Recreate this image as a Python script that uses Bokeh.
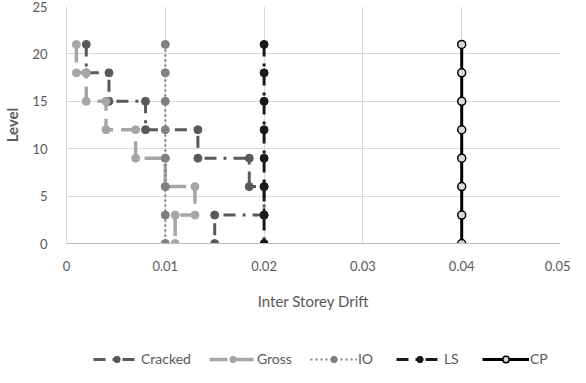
from bokeh.plotting import figure
from bokeh.models import Legend, LegendItem, FixedTicker
from bokeh.layouts import column
from bokeh.embed import file_html
from bokeh.resources import INLINE

# ---- data ----
step_levels = [21, 18, 18, 15, 15, 12, 12, 9, 9, 6, 6, 3, 3, 0]
cracked_drift = [0.002, 0.002, 0.0043, 0.0043, 0.008, 0.008, 0.0133, 0.0133,
                 0.0185, 0.0185, 0.020, 0.020, 0.015, 0.015]
gross_drift = [0.001, 0.001, 0.002, 0.002, 0.004, 0.004, 0.007, 0.007,
               0.010, 0.010, 0.013, 0.013, 0.011, 0.011]
limit_levels = [21, 18, 15, 12, 9, 6, 3, 0]
io_drift = [0.01, 0.01, 0.01, 0.01, 0.01, 0.01, 0.01, 0.01]
ls_drift = [0.02, 0.02, 0.02, 0.02, 0.02, 0.02, 0.02, 0.02]
cp_drift = [0.04, 0.04, 0.04, 0.04, 0.04, 0.04, 0.04, 0.04]
series_names = ["Cracked", "Gross", "IO", "LS", "CP"]
x_ticks = [0, 0.01, 0.02, 0.03, 0.04, 0.05]
x_tick_labels = ["0", "0.01", "0.02", "0.03", "0.04", "0.05"]
y_ticks = [0, 5, 10, 15, 20, 25]

FONT = "Lato"
TXT = "#595959"

p = figure(width=570, height=330, output_backend="svg", toolbar_location=None,
           x_range=(0, 0.05), y_range=(0, 25),
           min_border_left=54, min_border_right=10, min_border_top=6,
           min_border_bottom=87)
p.outline_line_color = None
p.background_fill_color = "white"

p.xaxis.ticker = FixedTicker(ticks=x_ticks)
p.xaxis.major_label_overrides = dict(zip(x_ticks, x_tick_labels))
p.yaxis.ticker = FixedTicker(ticks=y_ticks)
for ax in (p.xaxis, p.yaxis):
    ax.major_tick_line_color = None
    ax.minor_tick_line_color = None
    ax.major_label_text_font = FONT
    ax.major_label_text_font_size = "13px"
    ax.major_label_text_color = TXT
    ax.axis_label_text_font = FONT
    ax.axis_label_text_color = TXT
    ax.axis_label_text_font_style = "normal"
p.xaxis.axis_line_color = "#bfbfbf"
p.yaxis.axis_line_color = "#d9d9d9"
p.xaxis.major_label_standoff = 11
p.yaxis.major_label_standoff = 13
p.xaxis.axis_label = "Inter Storey Drift"
p.xaxis.axis_label_text_font_size = "15px"
p.xaxis.axis_label_standoff = 18
p.yaxis.axis_label = "Level"
p.yaxis.axis_label_text_font_size = "15px"
p.yaxis.axis_label_text_font_style = "bold"
p.yaxis.axis_label_standoff = 8

p.xgrid.ticker = FixedTicker(ticks=x_ticks)
p.ygrid.ticker = FixedTicker(ticks=y_ticks)
p.xgrid.grid_line_color = "#d9d9d9"
p.ygrid.grid_line_color = "#d9d9d9"

styles = [
    dict(line=dict(line_color="#595959", line_width=3, line_dash="12 7 3 7"),
         mark=dict(fill_color="#595959", line_color="#595959")),
    dict(line=dict(line_color="#a6a6a6", line_width=3.5, line_dash="18 8"),
         mark=dict(fill_color="#a6a6a6", line_color="#a6a6a6")),
    dict(line=dict(line_color="#808080", line_width=2.2, line_dash="2 3"),
         mark=dict(fill_color="#808080", line_color="#808080")),
    dict(line=dict(line_color="#1a1a1a", line_width=3, line_dash="12 7 3 7"),
         mark=dict(fill_color="#1a1a1a", line_color="#1a1a1a")),
    dict(line=dict(line_color="black", line_width=3),
         mark=dict(fill_color="#d9d9d9", line_color="black", line_width=1.5)),
]
series = [(cracked_drift, step_levels), (gross_drift, step_levels),
          (io_drift, limit_levels), (ls_drift, limit_levels), (cp_drift, limit_levels)]
for (xs, ys), st in zip(series, styles):
    p.line(xs, ys, **st["line"])
    p.scatter(xs, ys, size=8, **st["mark"])

# legend strip underneath the chart (its ranges keep the series out of view;
# only the legend entries are visible)
lg = figure(width=570, height=37, output_backend="svg", toolbar_location=None,
            x_range=(1, 2), y_range=(100, 101),
            x_axis_location=None, y_axis_location=None,
            min_border_left=0, min_border_right=0, min_border_top=0, min_border_bottom=0)
lg.outline_line_color = None
lg.xgrid.visible = False
lg.ygrid.visible = False
items = []
for name, (xs, ys), st in zip(series_names, series, styles):
    r1 = lg.line(xs, ys, **st["line"])
    r2 = lg.scatter(xs, ys, size=8, **st["mark"])
    items.append(LegendItem(label=name, renderers=[r1, r2]))
legend = Legend(items=items, orientation="horizontal", location=(27, 0), margin=0, padding=0,
                glyph_width=47, glyph_height=16, label_standoff=1, spacing=18,
                label_text_font=FONT, label_text_font_size="14px", label_text_color=TXT,
                border_line_color=None, background_fill_alpha=0)
lg.add_layout(legend, "center")

open("out.html", "w").write(file_html(column(p, lg), INLINE))
